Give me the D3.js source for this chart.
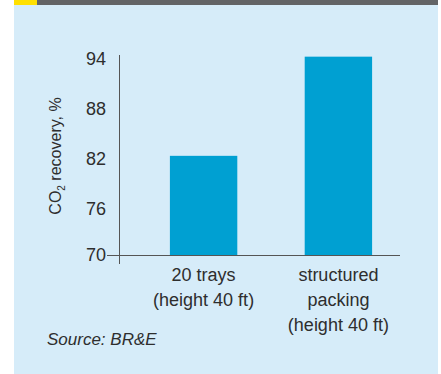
<!DOCTYPE html>
<html>
<head>
<meta charset="utf-8">
<script src="https://cdn.jsdelivr.net/npm/d3@7/dist/d3.min.js"></script>
<style>
  html, body { margin: 0; padding: 0; background: #ffffff; }
  svg { display: block; }
  text { font-family: "Liberation Sans", Arial, sans-serif; fill: #2e2e2e; }
</style>
</head>
<body>
<svg id="chart" width="441" height="374"></svg>
<script>
// CO2 recovery for the two column internals
const categories = [["20 trays", "(height 40 ft)"], ["structured", "packing", "(height 40 ft)"]];
const recovery = [81.9, 93.8];
const yTicks = [70, 76, 82, 88, 94];
const source = "Source: BR&E";

const svg = d3.select("#chart");

// panel background and header strip
svg.append("rect").attr("x", 14).attr("y", 0).attr("width", 424).attr("height", 374).attr("fill", "#d6ecf9");
svg.append("rect").attr("x", 14).attr("y", 0).attr("width", 424).attr("height", 5).attr("fill", "#636466");
svg.append("rect").attr("x", 14).attr("y", 0).attr("width", 23).attr("height", 5).attr("fill", "#ffe000");

const y = d3.scaleLinear().domain([70, 94]).range([255, 55]);
const x = d3.scaleBand().domain(d3.range(categories.length)).range([102.5, 439.5]).padding(0.5);

// bars
svg.selectAll("rect.bar").data(recovery).enter().append("rect")
  .attr("class", "bar")
  .attr("x", (d, i) => x(i))
  .attr("width", x.bandwidth())
  .attr("y", d => y(d))
  .attr("height", d => y(70) - y(d))
  .attr("fill", "#00a0d2");

// axes lines
const axisColor = "#555555";
svg.append("line").attr("x1", 119.5).attr("x2", 119.5).attr("y1", y(94)).attr("y2", y(70) + 9)
  .attr("stroke", axisColor).attr("stroke-width", 1);
svg.append("line").attr("x1", 107).attr("x2", 400).attr("y1", y(70) + 0.5).attr("y2", y(70) + 0.5)
  .attr("stroke", axisColor).attr("stroke-width", 1);

// y tick labels
svg.selectAll("text.ytick").data(yTicks).enter().append("text")
  .attr("class", "ytick")
  .attr("x", 106)
  .attr("y", d => y(d) + (d === 70 ? 0 : 3.5))
  .attr("dy", "0.36em")
  .attr("text-anchor", "end")
  .attr("font-size", 18)
  .text(d => d);

// y axis title with subscript
const yt = svg.append("text")
  .attr("transform", "translate(61,156) rotate(-90)")
  .attr("text-anchor", "middle")
  .attr("font-size", 16);
yt.append("tspan").text("CO");
yt.append("tspan").attr("font-size", 10).attr("dy", 4).text("2");
yt.append("tspan").attr("dy", -4).text(" recovery, %");

// category labels
categories.forEach((lines, i) => {
  const cx = x(i) + x.bandwidth() / 2;
  const t = svg.append("text")
    .attr("text-anchor", "middle")
    .attr("font-size", 18)
    .attr("x", cx)
    .attr("y", 281);
  lines.forEach((ln, j) => {
    t.append("tspan").attr("x", cx).attr("dy", j === 0 ? 0 : 25).text(ln);
  });
});

// source note
svg.append("text")
  .attr("x", 47).attr("y", 345)
  .attr("font-size", 17)
  .attr("font-style", "italic")
  .text(source);
</script>
</body>
</html>
